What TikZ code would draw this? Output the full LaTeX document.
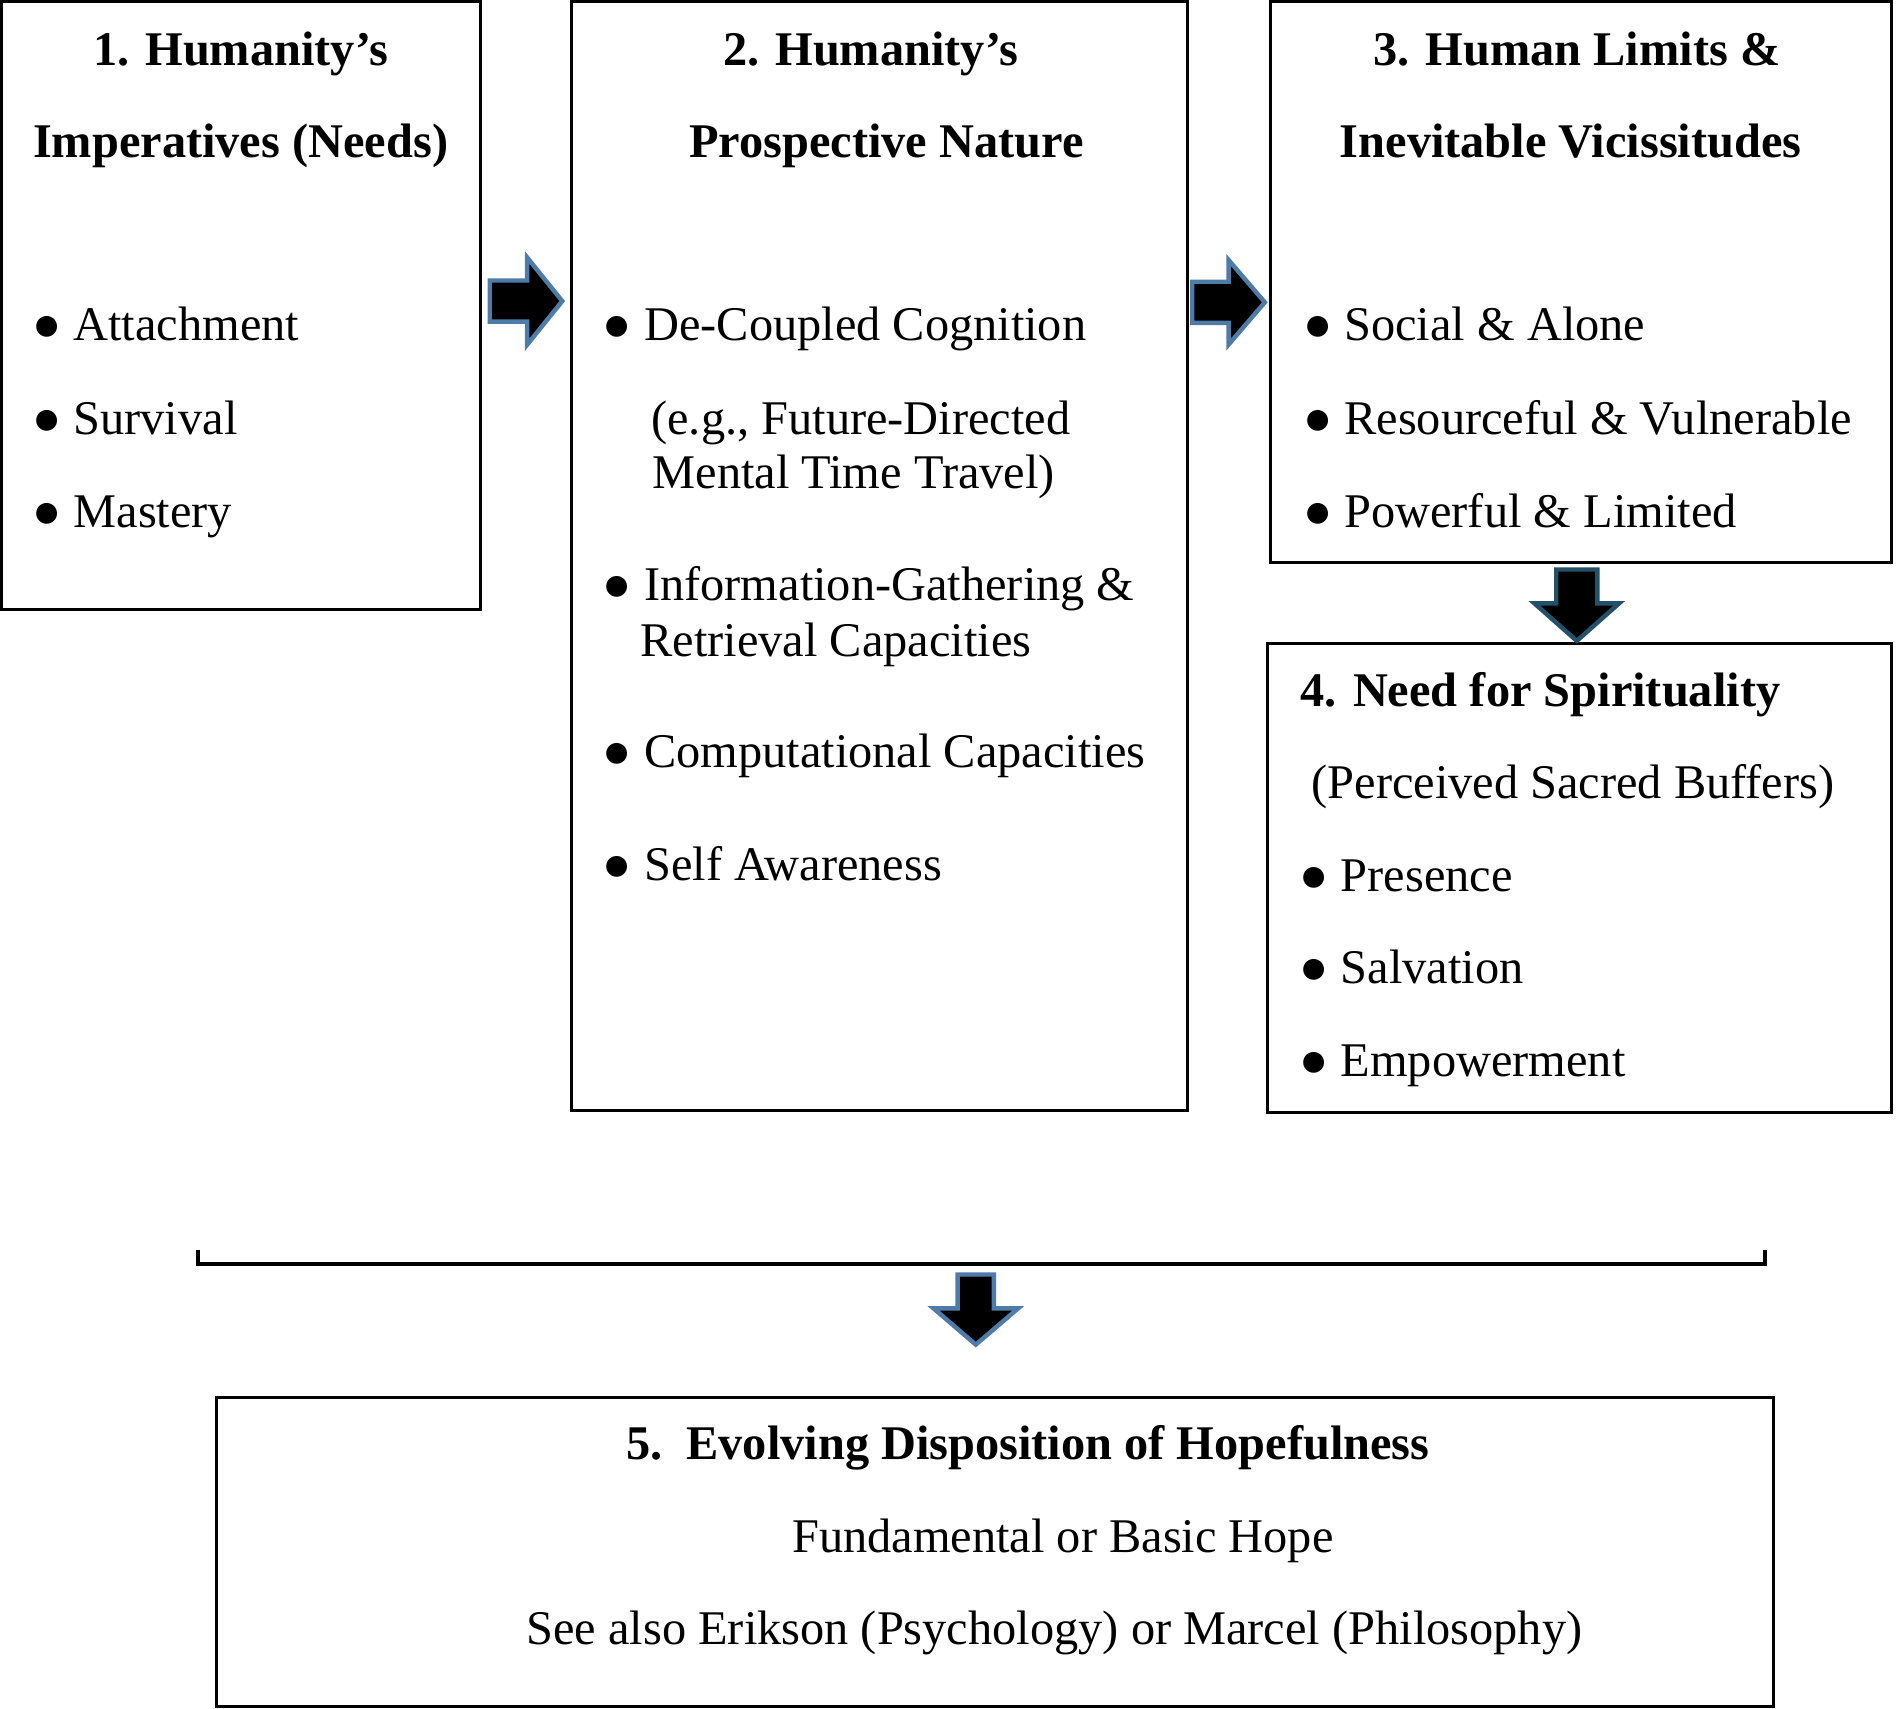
\documentclass[tikz,border=0pt]{standalone}
\usepackage{fontspec}
\setmainfont{Liberation Serif}
\definecolor{steel}{HTML}{4F7BA8}
\definecolor{darksteel}{HTML}{24506A}
\begin{document}
\begin{tikzpicture}[x=0.3pt,y=-0.3pt,
  box/.style={draw=black,line width=0.75pt},
  txt/.style={font=\fontsize{12}{13.5}\selectfont,inner sep=0pt,anchor=base west},
  ctxt/.style={font=\fontsize{12}{13.5}\selectfont,inner sep=0pt,anchor=base},
  head/.style={font=\fontsize{12}{13.5}\selectfont\bfseries,inner sep=0pt,anchor=base},
  blockarrow/.style={draw=steel,fill=black,line width=1.1pt,line join=miter},
  bracket/.style={draw=black,line width=1pt}]
\useasboundingbox (0,0) rectangle (1568,1413);
% boxes
\draw[box] (1,1) rectangle (397,504) coordinate (b1);
\draw[box] (473,1) rectangle (982,918) coordinate (b2);
\draw[box] (1051,1) rectangle (1564,465) coordinate (b3);
\draw[box] (1048,532) rectangle (1564,920) coordinate (b4);
\draw[box] (179,1156) rectangle (1467,1411) coordinate (b5);
% box 1
\node[head] (h1a) at (199,54) {1. Humanity’s};
\node[head] (h1b) at (199,130) {Imperatives (Needs)};
\node[txt] (t1a) at (26,282) {● Attachment};
\node[txt] (t1b) at (26,359) {● Survival};
\node[txt] (t1c) at (26,436) {● Mastery};
% box 2
\node[head] (h2a) at (720,54) {2. Humanity’s};
\node[head] (h2b) at (733,130) {Prospective Nature};
\node[txt] (t2a) at (498,282) {● De-Coupled Cognition};
\node[txt] (t2b) at (538,359) {(e.g., Future-Directed};
\node[txt] (t2c) at (539,404) {Mental Time Travel)};
\node[txt] (t2d) at (498,497) {● Information-Gathering \&};
\node[txt] (t2e) at (529,543) {Retrieval Capacities};
\node[txt] (t2f) at (498,635) {● Computational Capacities};
\node[txt] (t2g) at (498,728) {● Self Awareness};
% box 3
\node[head] (h3a) at (1304,54) {3. Human Limits \&};
\node[head] (h3b) at (1299,130) {Inevitable Vicissitudes};
\node[txt] (t3a) at (1077,282) {● Social \& Alone};
\node[txt] (t3b) at (1077,359) {● Resourceful \& Vulnerable};
\node[txt] (t3c) at (1077,436) {● Powerful \& Limited};
% box 4
\node[txt,font=\fontsize{12}{13.5}\selectfont\bfseries] (h4) at (1075,584) {4. Need for Spirituality};
\node[txt] (t4a) at (1084,660) {(Perceived Sacred Buffers)};
\node[txt] (t4b) at (1074,737) {● Presence};
\node[txt] (t4c) at (1074,813) {● Salvation};
\node[txt] (t4d) at (1074,890) {● Empowerment};
% box 5
\node[head] (h5) at (850,1207) {5.\ \ Evolving Disposition of Hopefulness};
\node[ctxt] (t5a) at (879,1284) {Fundamental or Basic Hope};
\node[ctxt] (t5b) at (872,1360) {See also Erikson (Psychology) or Marcel (Philosophy)};
% arrows
\draw[blockarrow] (405,232) -- (436,232) -- (436,213) -- (465,249) -- (436,285) -- (436,266) -- (405,266) -- cycle;
\draw[blockarrow] (986,233) -- (1016,233) -- (1016,215) -- (1046,250) -- (1016,285) -- (1016,267) -- (986,267) -- cycle;
\draw[blockarrow,draw=darksteel] (1287,471) -- (1321,471) -- (1321,499) -- (1339,499) -- (1304,530) -- (1269,499) -- (1287,499) -- cycle;
\draw[blockarrow] (792,1054) -- (822,1054) -- (822,1082) -- (842,1082) -- (807,1112) -- (772,1082) -- (792,1082) -- cycle;
% bracket
\draw[bracket] (164,1034) -- (164,1045) -- (1460,1045) -- (1460,1034);
\end{tikzpicture}
\end{document}
